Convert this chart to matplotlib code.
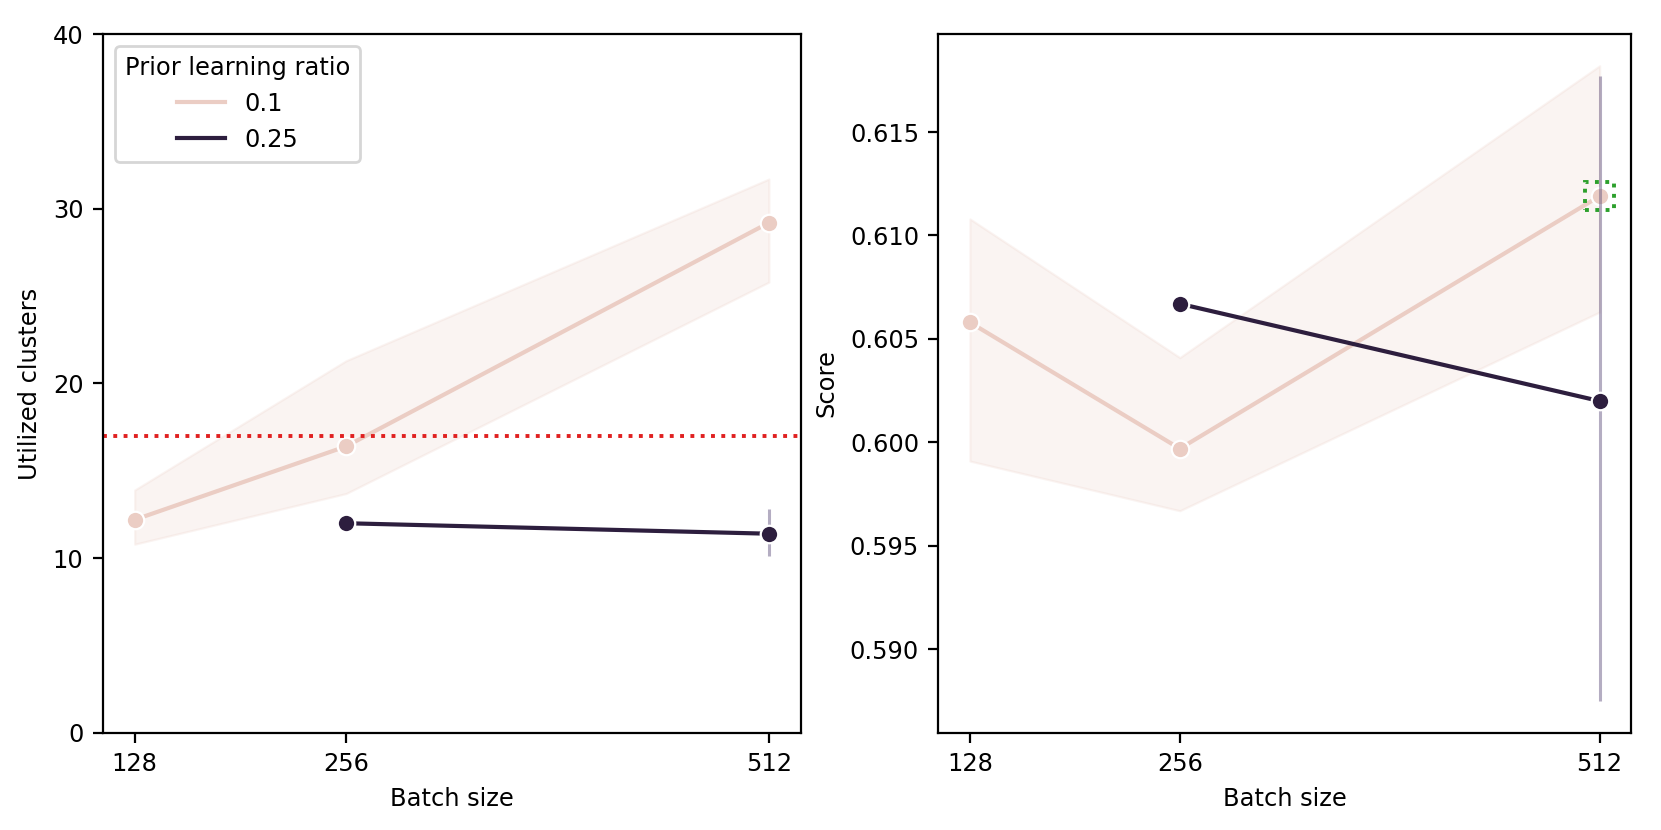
import matplotlib.pyplot as plt
from matplotlib.lines import Line2D
from matplotlib.patches import Rectangle

batch = [128, 256, 512]

# prior learning ratio 0.1 (line + CI band)
clusters_01 = [12.2, 16.4, 29.2]
clusters_01_lo = [10.8, 13.7, 25.8]
clusters_01_hi = [13.9, 21.3, 31.7]
score_01 = [0.6058, 0.5997, 0.6119]
score_01_lo = [0.5991, 0.5967, 0.6063]
score_01_hi = [0.6108, 0.6041, 0.6182]

# prior learning ratio 0.25 (only 256 and 512, error bar at 512)
batch_025 = [256, 512]
clusters_025 = [12.0, 11.4]
clusters_025_err = (10.1, 12.8)
score_025 = [0.6067, 0.6020]
score_025_err = (0.5875, 0.6177)

threshold = 17.0  # red dotted reference line

c_light = "#ebcdc4"
c_dark = "#2d1e3e"

plt.rcParams["font.size"] = 8.7

fig = plt.figure(figsize=(8.305, 4.15), dpi=200)
ax1 = fig.add_axes([0.062, 0.117, 0.420, 0.842])
ax2 = fig.add_axes([0.565, 0.117, 0.417, 0.842])

def draw(ax, y01, lo, hi, y025, err):
    ax.fill_between(batch, lo, hi, color=c_light, alpha=0.22, linewidth=0.8)
    ax.plot(batch, y01, color=c_light, lw=1.5, marker="o", ms=6.3,
            markeredgecolor="white", markeredgewidth=0.8)
    ax.vlines(512, err[0], err[1], color="#5a4a78", alpha=0.45, lw=1.1)
    ax.plot(batch_025, y025, color=c_dark, lw=1.5, marker="o", ms=6.3,
            markeredgecolor="white", markeredgewidth=0.8)
    ax.set_xticks(batch)
    ax.set_xlabel("Batch size")

draw(ax1, clusters_01, clusters_01_lo, clusters_01_hi, clusters_025, clusters_025_err)
ax1.axhline(threshold, color="#e02020", ls=":", lw=1.4)
ax1.set_ylim(0, 40)
ax1.set_yticks([0, 10, 20, 30, 40])
ax1.set_ylabel("Utilized clusters")
handles = [Line2D([], [], color=c_light, lw=1.5), Line2D([], [], color=c_dark, lw=1.5)]
ax1.legend(handles, ["0.1", "0.25"], title="Prior learning ratio", loc="upper left")

draw(ax2, score_01, score_01_lo, score_01_hi, score_025, score_025_err)
ax2.set_ylabel("Score")
ax2.add_patch(Rectangle((512 - 9, score_01[2] - 0.00068), 18, 0.00136,
                        fill=False, edgecolor="#2ca02c", ls=":", lw=1.4, zorder=5))

fig.savefig("out.png", dpi=200)
